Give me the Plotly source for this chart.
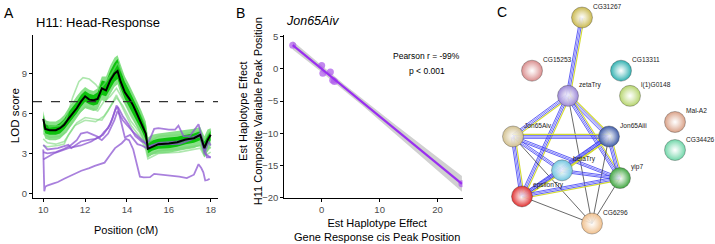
import numpy as np
import plotly.graph_objects as go

# ---------------- Panel A data ----------------
pos = [10.0,10.1,10.3,10.6,10.8,11.0,11.2,11.4,11.6,11.8,12.0,12.2,12.4,12.6,12.8,13.0,13.2,13.4,13.55,13.7,13.9,14.1,14.3,14.5,14.7,14.9,15.0,15.2,15.5,16.0,16.4,16.8,17.2,17.5,17.7,17.85,18.0]
lod_mean = [5.6,4.85,4.75,4.75,4.9,5.15,5.6,6.0,6.4,6.9,7.3,7.05,7.0,7.1,7.9,7.75,8.5,9.0,9.2,8.4,7.6,7.15,6.6,5.9,5.2,4.5,3.35,3.5,3.7,3.75,3.85,4.05,4.15,4.4,3.4,4.0,4.4]
band_inner_hi = [5.9,5.2,5.1,5.1,5.3,5.6,6.1,6.5,6.9,7.4,7.7,7.5,7.4,7.6,8.5,8.4,9.2,9.8,10.1,9.3,8.4,7.8,7.2,6.5,5.8,5.1,3.9,4.0,4.1,4.2,4.25,4.4,4.5,4.7,3.9,4.4,4.7]
band_inner_lo = [5.0,4.5,4.4,4.4,4.5,4.8,5.2,5.6,6.0,6.5,6.9,6.7,6.6,6.7,7.4,7.3,7.9,8.4,8.6,7.9,7.1,6.6,6.0,5.3,4.7,4.0,3.0,3.2,3.35,3.4,3.5,3.7,3.8,4.0,3.0,3.6,4.0]
band_outer_hi = [6.2,5.5,5.4,5.4,5.6,5.9,6.4,6.9,7.3,7.7,8.0,7.8,7.7,7.9,8.8,8.8,9.6,10.2,10.4,9.7,8.8,8.2,7.6,6.9,6.2,5.4,4.2,4.4,4.5,4.6,4.65,4.75,4.85,5.0,4.3,4.8,4.9]
band_outer_lo = [4.6,4.1,4.0,4.0,4.1,4.4,4.8,5.2,5.6,6.1,6.4,6.3,6.2,6.3,7.0,6.9,7.5,8.0,8.2,7.5,6.7,6.2,5.6,4.9,4.3,3.6,2.7,2.9,3.0,3.05,3.15,3.3,3.4,3.6,2.7,3.2,3.6]

lg1_x = [10.0,10.3,10.8,11.1,11.4,11.7,11.9,12.2,12.5,12.7,13.0,13.3,13.55,13.8,14.2,14.6,14.9,15.0,15.5,16.5,17.5,17.7,18.0]
lg1_y = [5.7,5.0,5.1,5.6,7.2,8.4,8.7,8.6,8.2,7.8,8.4,9.1,9.8,8.9,7.6,6.3,5.0,3.8,4.3,4.4,4.7,4.0,4.8]
lg2_x = [10.0,10.3,10.8,11.1,11.5,12.0,12.3,12.6,12.9,13.2,13.5,13.8,14.2,14.6,14.9,15.0,15.5,16.5,17.5,17.7,18.0]
lg2_y = [4.5,4.2,4.3,4.6,5.7,6.5,6.4,6.2,6.9,7.3,7.9,7.1,5.8,4.8,3.7,2.9,3.2,3.3,3.6,2.9,3.5]
lg3_x = [10.0,10.2,10.6,11.0,11.3,11.6,12.0,12.4,12.8,13.1,13.5,13.8,14.2,14.6,14.9,15.0,15.5,16.5,17.5,17.7,18.0]
lg3_y = [4.1,3.8,3.7,3.9,4.6,5.3,5.7,5.6,5.5,6.2,7.4,6.4,5.1,4.3,3.3,2.6,3.0,3.1,3.4,2.8,3.1]
lg4_x = [10.0,10.2,10.7,11.0,11.2,11.5,12.0,12.5,12.9,13.2,13.5,13.8,14.2,14.6,14.9,15.0,15.5,16.5,17.5,18.0]
lg4_y = [3.6,3.5,3.6,3.7,4.4,5.1,5.5,5.4,5.8,6.5,7.2,6.6,5.4,4.6,3.5,2.8,3.2,3.4,3.6,3.4]

p1_x = [10.0,10.2,10.6,11.0,11.3,11.6,11.8,12.1,12.4,12.7,12.9,13.1,13.3,13.5,13.6,13.8,14.07,14.4,14.7,14.95,15.1,15.3,15.5,16.0,16.3,16.46,16.7,17.0,17.42,17.55,17.7,17.82,18.0]
p1_y = [3.1,3.0,3.1,3.35,3.6,4.0,4.5,4.6,4.4,4.2,4.6,4.9,5.6,6.6,6.4,5.8,5.2,4.3,3.9,3.75,4.1,4.85,4.9,4.8,4.8,5.1,4.3,4.3,5.2,4.4,3.4,2.7,2.7]
p2_x = [10.0,10.2,10.7,11.2,11.34,11.6,11.8,12.1,12.5,12.86,13.0,13.2,13.45,13.55,13.7,13.9,14.15,14.3,14.5,14.7,14.95,15.2,15.6,16.0,16.5,16.86,17.2,17.5,17.65,17.75,17.9,18.0]
p2_y = [3.65,3.3,3.4,3.65,3.4,3.7,3.9,4.0,4.1,4.4,4.75,5.2,6.3,6.5,5.5,4.2,4.4,4.1,3.7,3.6,3.4,3.6,3.65,3.7,3.7,3.9,4.1,4.3,3.4,3.2,3.9,3.6]
p3_x = [10.0,10.5,11.2,11.8,12.3,12.6,12.8,13.1,13.4,13.55,13.8,14.3,14.8,15.0,15.5,16.5,17.3,17.5,17.7,18.0]
p3_y = [2.55,3.0,3.4,3.6,3.9,4.2,4.0,4.5,5.5,6.2,5.5,4.6,3.9,3.5,3.8,3.9,4.3,4.5,3.0,2.7]
p4_x = [10.0,10.05,10.1,10.22,10.5,10.7,11.0,11.34,11.82,12.2,12.46,12.93,13.03,13.2,13.43,13.6,13.75,13.95,14.1,14.3,14.45,14.55,14.62,14.8,15.1,15.3,15.7,16.06,16.5,16.86,17.2,17.42,17.55,17.65,17.74,17.85,17.95]
p4_y = [3.3,0.15,0.5,0.6,0.75,0.85,1.1,1.34,1.7,1.9,2.07,2.31,2.55,2.9,3.4,3.6,3.77,4.1,4.0,3.3,2.4,1.7,1.25,1.2,1.22,1.46,1.4,1.34,1.25,1.14,1.4,2.19,1.9,1.58,0.97,1.0,1.1]

lod_threshold = 6.9
a_xticks = [10, 12, 14, 16, 18]
a_yticks = [0, 3, 6, 9]

# ---------------- Panel B data ----------------
cis_effect = [-5.0, 0.0, 0.2, 1.5, 1.9, 2.2, 24.2]
comp_effect = [3.7, 0.55, -0.65, -0.45, -1.75, -1.95, -17.85]
b_xticks = [0, 10, 20]
b_yticks = [-20, -15, -10, -5, 0, 5]

# ---------------- Panel C data ----------------
node_names = ["CG31267","CG15253","CG13311","l(1)G0148","zetaTry","Mal-A2","CG34426",
              "Jon65Aiv","Jon65Aiii","betaTry","yip7","epsilonTry","CG6296"]
node_x = [582, 532, 621, 630, 568, 675, 675, 513, 609, 562, 620, 522, 592]
node_y = [15, 70, 70, 96, 96, 123, 152, 138, 138, 173, 181, 200, 228]
node_colors = ["#c9b84e","#d98c8c","#2fb0b0","#b5d46c","#9a86d6","#d9a086","#6fd6a8",
               "#d2c08e","#3d5aa6","#72c6e0","#3fa63f","#e03030","#efbf8c"]
edges = [("CG31267","zetaTry","by"),("zetaTry","Jon65Aiv","by"),("zetaTry","Jon65Aiii","by"),
         ("zetaTry","epsilonTry","by"),("zetaTry","yip7","by"),("zetaTry","CG6296","k"),
         ("Jon65Aiv","Jon65Aiii","by"),("Jon65Aiv","betaTry","b"),("Jon65Aiv","yip7","b"),
         ("Jon65Aiv","epsilonTry","by"),("Jon65Aiv","CG6296","k"),
         ("Jon65Aiii","betaTry","by"),("Jon65Aiii","epsilonTry","by"),("Jon65Aiii","yip7","by"),
         ("Jon65Aiii","CG6296","k"),("betaTry","yip7","b"),("betaTry","epsilonTry","by"),
         ("yip7","epsilonTry","by"),("yip7","CG6296","k"),("epsilonTry","CG6296","k")]

FONT = "Liberation Sans, Arial, sans-serif"
W, H = 715, 244
fig = go.Figure()

# ---- Panel A traces ----
def band(hi, lo, color):
    fig.add_trace(go.Scatter(x=pos + pos[::-1], y=hi + lo[::-1], fill="toself", fillcolor=color,
                             line=dict(width=0), mode="lines", hoverinfo="skip", xaxis="x", yaxis="y"))

band(band_outer_hi, band_outer_lo, "rgba(40,200,40,0.55)")
band(band_inner_hi, band_inner_lo, "rgba(0,190,0,0.9)")
for lx, ly in [(lg1_x, lg1_y), (lg2_x, lg2_y), (lg3_x, lg3_y), (lg4_x, lg4_y)]:
    fig.add_trace(go.Scatter(x=lx, y=ly, mode="lines", line=dict(color="rgba(120,215,120,0.6)", width=1.6),
                             xaxis="x", yaxis="y"))
for lx, ly in [(p1_x, p1_y), (p2_x, p2_y), (p3_x, p3_y), (p4_x, p4_y)]:
    fig.add_trace(go.Scatter(x=lx, y=ly, mode="lines", line=dict(color="rgba(140,85,210,0.75)", width=1.8),
                             xaxis="x", yaxis="y"))
fig.add_trace(go.Scatter(x=pos, y=lod_mean, mode="lines", line=dict(color="black", width=2),
                         xaxis="x", yaxis="y"))

# ---- Panel B traces ----
xb = np.array(cis_effect); yb = np.array(comp_effect)
slope, intercept = np.polyfit(xb, yb, 1)
n = len(xb)
resid = yb - (slope * xb + intercept)
s = np.sqrt(np.sum(resid ** 2) / (n - 2))
sxx = np.sum((xb - xb.mean()) ** 2)
grid = np.linspace(xb.min(), xb.max(), 60)
fit = slope * grid + intercept
se = s * np.sqrt(1.0 / n + (grid - xb.mean()) ** 2 / sxx)
tval = 2.571
fig.add_trace(go.Scatter(x=np.concatenate([grid, grid[::-1]]),
                         y=np.concatenate([fit + tval * se, (fit - tval * se)[::-1]]),
                         fill="toself", fillcolor="rgba(150,150,150,0.45)", line=dict(width=0),
                         mode="lines", xaxis="x2", yaxis="y2"))
fig.add_trace(go.Scatter(x=xb, y=yb, mode="markers",
                         marker=dict(color="rgba(175,95,235,0.75)", size=7), xaxis="x2", yaxis="y2"))
fig.add_trace(go.Scatter(x=grid, y=fit, mode="lines", line=dict(color="#9a2ff0", width=2.2),
                         xaxis="x2", yaxis="y2"))

# ---- Panel C traces ----
idx = {nm: i for i, nm in enumerate(node_names)}

def edge_line(a, b, off, color, width):
    x0, y0 = node_x[idx[a]], node_y[idx[a]]
    x1, y1 = node_x[idx[b]], node_y[idx[b]]
    dx, dy = x1 - x0, y1 - y0
    L = (dx * dx + dy * dy) ** 0.5
    px, py = -dy / L * off, dx / L * off
    fig.add_trace(go.Scatter(x=[x0 + px, x1 + px], y=[y0 + py, y1 + py], mode="lines",
                             line=dict(color=color, width=width), xaxis="x3", yaxis="y3",
                             hoverinfo="skip"))

for a, b, t in edges:
    if t == "k":
        edge_line(a, b, 0, "#2a2a2a", 0.7)
    else:
        if t == "by":
            edge_line(a, b, -2.2, "#d2da30", 1.1)
        edge_line(a, b, -0.8, "#3a3af0", 0.8)
        edge_line(a, b, 0.6, "#6464ff", 0.8)
        edge_line(a, b, 1.9, "#3a3af0", 0.8)

fig.add_trace(go.Scatter(x=node_x, y=node_y, mode="markers",
                         marker=dict(size=21, color=node_colors,
                                     gradient=dict(type="radial", color="rgba(255,255,255,0.85)"),
                                     line=dict(color="rgba(60,60,60,0.45)", width=0.8)),
                         xaxis="x3", yaxis="y3"))
for nm, nx, ny in zip(node_names, node_x, node_y):
    fig.add_annotation(text=nm, x=nx, y=ny, xref="x3", yref="y3", xanchor="left", yanchor="middle",
                       xshift=8.5, yshift=11, showarrow=False,
                       font=dict(size=6.6, color="#222", family=FONT))

def px2x(p): return p / W
def px2y(p): return 1 - p / H

axis_common = dict(showgrid=False, zeroline=False, showline=True, linecolor="black", linewidth=1,
                   ticks="outside", ticklen=3, tickcolor="black",
                   tickfont=dict(size=9.5, color="#4d4d4d", family=FONT))

fig.update_layout(
    width=W, height=H, margin=dict(l=0, r=0, t=0, b=0), autosize=False,
    paper_bgcolor="white", plot_bgcolor="white", showlegend=False,
    font=dict(family=FONT),
    xaxis=dict(domain=[px2x(33), px2x(218)], range=[9.51, 18.35], tickvals=a_xticks,
               anchor="y", **axis_common),
    yaxis=dict(domain=[px2y(201.7), px2y(33.3)], range=[-0.36, 11.9], tickvals=a_yticks,
               anchor="x", **axis_common),
    xaxis2=dict(domain=[px2x(284.3), px2x(462.5)], range=[-6.45, 24.3], tickvals=b_xticks,
                anchor="y2", **axis_common),
    yaxis2=dict(domain=[px2y(201.7), px2y(32.7)], range=[-20.1, 5.35], tickvals=b_yticks,
                anchor="x2", **axis_common),
    xaxis3=dict(domain=[px2x(490), 1.0], range=[490, 715], visible=False, anchor="y3"),
    yaxis3=dict(domain=[0, 1], range=[244, 0], visible=False, anchor="x3"),
    shapes=[dict(type="line", xref="x domain", yref="y", x0=0, x1=1, y0=lod_threshold, y1=lod_threshold,
                 line=dict(color="#333", width=1.3, dash="dash"), layer="above")],
)

ann = [
    dict(text="A", x=px2x(2), y=px2y(10), size=14, xanchor="left", color="black"),
    dict(text="B", x=px2x(234), y=px2y(10), size=14, xanchor="left", color="black"),
    dict(text="C", x=px2x(495), y=px2y(9), size=14, xanchor="left", color="black"),
    dict(text="H11: Head-Response", x=px2x(34), y=px2y(20), size=13, xanchor="left", color="black"),
    dict(text="<i>Jon65Aiv</i>", x=px2x(284), y=px2y(19), size=12.5, xanchor="left", color="black"),
    dict(text="Position (cM)", x=px2x(125.5), y=px2y(235), size=11, xanchor="center", color="black"),
    dict(text="Est Haplotype Effect<br>Gene Response cis Peak Position", x=px2x(376.7), y=px2y(235),
         size=11, xanchor="center", color="black"),
    dict(text="Pearson r = -99%", x=px2x(426.7), y=px2y(55), size=8.5, xanchor="center", color="black"),
    dict(text="p < 0.001", x=px2x(426.5), y=px2y(70), size=8.5, xanchor="center", color="black"),
]
for a in ann:
    fig.add_annotation(text=a["text"], x=a["x"], y=a["y"], xref="paper", yref="paper",
                       xanchor=a["xanchor"], yanchor="middle", showarrow=False,
                       font=dict(size=a["size"], color=a["color"], family=FONT))
fig.add_annotation(text="LOD score", x=px2x(15), y=px2y(117), xref="paper", yref="paper",
                   textangle=-90, showarrow=False, xanchor="center", yanchor="middle",
                   font=dict(size=11.5, color="black", family=FONT))
fig.add_annotation(text="Est Haplotype Effect<br>H11 Composite Variable Peak Position",
                   x=px2x(250.8), y=px2y(112), xref="paper", yref="paper",
                   textangle=-90, showarrow=False, xanchor="center", yanchor="middle",
                   font=dict(size=11, color="black", family=FONT))

fig.write_html("out.html", config={"displayModeBar": False},
               post_script="document.body.style.margin='0';")
